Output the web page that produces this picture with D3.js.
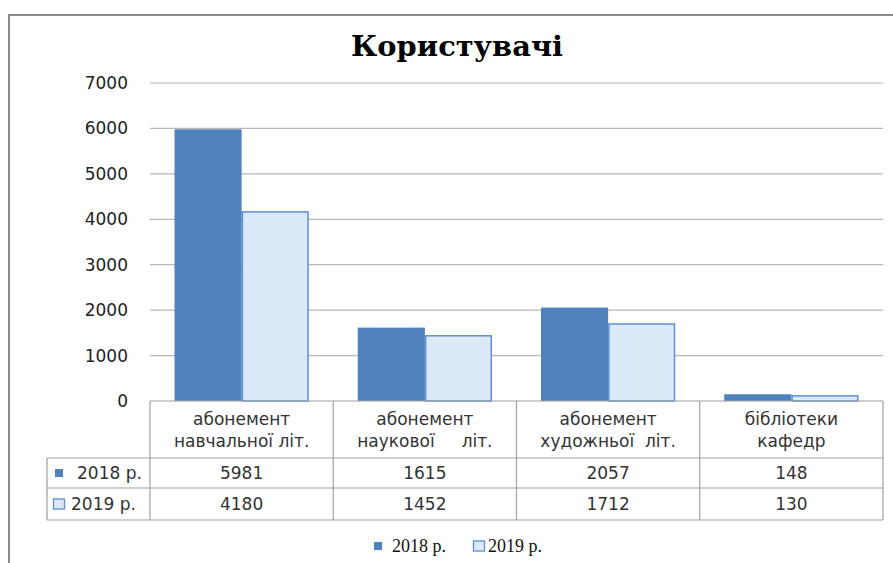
<!DOCTYPE html>
<html>
<head>
<meta charset="utf-8">
<script src="https://cdn.jsdelivr.net/npm/d3@7"></script>
<style>
  body { margin: 0; background: #fff; }
  svg { display: block; }
</style>
</head>
<body>
<div id="chart"></div>
<script>
// chart data
const categories = [
    ['абонемент', 'навчальної літ.'],
    ['абонемент', 'наукової     літ.'],
    ['абонемент', 'художньої  літ.'],
    ['бібліотеки', 'кафедр']
];
const seriesNames = ['2018 р.', '2019 р.'];
const values2018 = [5981, 1615, 2057, 148];
const values2019 = [4180, 1452, 1712, 130];
const yTicks = [0, 1000, 2000, 3000, 4000, 5000, 6000, 7000];

const width = 893, height = 563;
const colors = ['#4f81bd', '#dce9f8'];
const strokes = ['#4f81bd', '#5b8fd8'];

const svg = d3.select('#chart').append('svg')
    .attr('width', width)
    .attr('height', height);

// outer frame (right and bottom edges are cut off)
svg.append('path')
    .attr('d', `M9,${height} V15 H${width}`)
    .attr('fill', 'none')
    .attr('stroke', '#8a8a8a')
    .attr('stroke-width', 2);

// title
svg.append('text')
    .attr('x', 457)
    .attr('y', 56)
    .attr('text-anchor', 'middle')
    .attr('textLength', 212)
    .attr('lengthAdjust', 'spacingAndGlyphs')
    .style('font-family', '"DejaVu Serif", serif')
    .style('font-weight', 'bold')
    .style('font-size', '27px')
    .attr('fill', '#000')
    .text('Користувачі');

const plotLeft = 150, plotRight = 883;
const y = d3.scaleLinear().domain([0, 7000]).range([401, 83]);
const x0 = d3.scaleBand().domain(d3.range(categories.length)).range([plotLeft, plotRight]);
const x1 = d3.scaleBand().domain(d3.range(seriesNames.length))
    .range([24.5, x0.bandwidth() - 24.5]);

// gridlines
svg.append('g')
    .selectAll('line')
    .data(yTicks.filter(d => d > 0))
    .enter()
    .append('line')
    .attr('x1', plotLeft)
    .attr('x2', plotRight)
    .attr('y1', d => y(d))
    .attr('y2', d => y(d))
    .attr('stroke', '#b8b8b8')
    .attr('stroke-width', 1.2);

const textFont = '"DejaVu Sans", sans-serif';
const textSize = '17px';
const textColor = '#333';

// y axis labels
const yAxis = d3.axisLeft(y).tickValues(yTicks).tickFormat(d3.format('d')).tickSize(0).tickPadding(0);
const yg = svg.append('g')
    .attr('transform', 'translate(128,0)')
    .call(yAxis);
yg.select('.domain').remove();
yg.selectAll('text')
    .style('font-family', textFont)
    .style('font-size', textSize)
    .attr('fill', '#222');

// bars
const allValues = [values2018, values2019];
allValues.forEach((vals, s) => {
    svg.append('g')
        .selectAll('rect')
        .data(vals)
        .enter()
        .append('rect')
        .attr('x', (d, i) => x0(i) + x1(s) + (s === 1 ? 0.75 : 0))
        .attr('y', d => y(d) + (s === 1 ? 0.75 : 0))
        .attr('width', x1.bandwidth() - (s === 1 ? 1.5 : 0))
        .attr('height', d => y(0) - y(d) - (s === 1 ? 0.75 : 0))
        .attr('fill', colors[s])
        .attr('stroke', s === 1 ? strokes[s] : 'none')
        .attr('stroke-width', 1.5);
});

// data table
const tableTop = 401, headerBottom = 458, row1Bottom = 488, row2Bottom = 520;
const legendColLeft = 47;
const lineColor = '#a0a0a0';
const table = svg.append('g');

const hLine = (x1v, x2v, yv) => table.append('line')
    .attr('x1', x1v).attr('x2', x2v).attr('y1', yv).attr('y2', yv)
    .attr('stroke', lineColor).attr('stroke-width', 1.2);
const vLine = (xv, y1v, y2v) => table.append('line')
    .attr('x1', xv).attr('x2', xv).attr('y1', y1v).attr('y2', y2v)
    .attr('stroke', lineColor).attr('stroke-width', 1.2);

hLine(plotLeft, plotRight, tableTop);
hLine(legendColLeft, plotRight, headerBottom);
hLine(legendColLeft, plotRight, row1Bottom);
hLine(legendColLeft, plotRight, row2Bottom);
vLine(legendColLeft, headerBottom, row2Bottom);
d3.range(categories.length + 1).forEach(i => {
    const xv = i < categories.length ? x0(i) : plotRight;
    vLine(xv, tableTop, row2Bottom);
});

// header text
categories.forEach((lines, i) => {
    const t = table.append('text')
        .attr('x', x0(i) + x0.bandwidth() / 2)
        .attr('text-anchor', 'middle')
        .style('font-family', textFont)
        .style('font-size', textSize)
        .style('white-space', 'pre')
        .attr('fill', textColor);
    lines.forEach((ln, k) => {
        t.append('tspan')
            .attr('x', x0(i) + x0.bandwidth() / 2)
            .attr('y', 425 + k * 22)
            .text(ln);
    });
});

// value rows
const rowMid = [473, 504];
allValues.forEach((vals, s) => {
    table.append('g')
        .selectAll('text')
        .data(vals)
        .enter()
        .append('text')
        .attr('x', (d, i) => x0(i) + x0.bandwidth() / 2)
        .attr('y', rowMid[s] + 6)
        .attr('text-anchor', 'middle')
        .style('font-family', textFont)
        .style('font-size', textSize)
        .attr('fill', textColor)
        .text(d => d);

    // legend key inside table
    table.append('rect')
        .attr('x', s === 0 ? 55 : 53.5)
        .attr('y', rowMid[s] - (s === 0 ? 4 : 5))
        .attr('width', s === 0 ? 8 : 11)
        .attr('height', s === 0 ? 8 : 10)
        .attr('fill', colors[s])
        .attr('stroke', s === 1 ? strokes[s] : 'none')
        .attr('stroke-width', 1.3);
    table.append('text')
        .attr('x', s === 0 ? 77 : 71)
        .attr('y', rowMid[s] + 6)
        .style('font-family', textFont)
        .style('font-size', textSize)
        .attr('fill', textColor)
        .text(seriesNames[s]);
});

// bottom legend
const legend = svg.append('g');
const legendItems = [
    { x: 374, w: 8, h: 8, tx: 392 },
    { x: 473.5, w: 11, h: 10, tx: 488 }
];
legendItems.forEach((it, s) => {
    legend.append('rect')
        .attr('x', it.x)
        .attr('y', 546 - it.h / 2)
        .attr('width', it.w)
        .attr('height', it.h)
        .attr('fill', colors[s])
        .attr('stroke', s === 1 ? strokes[s] : 'none')
        .attr('stroke-width', 1.3);
    legend.append('text')
        .attr('x', it.tx)
        .attr('y', 552)
        .style('font-family', '"Liberation Serif", serif')
        .style('font-size', '18px')
        .attr('fill', '#111')
        .text(seriesNames[s]);
});
</script>
</body>
</html>
